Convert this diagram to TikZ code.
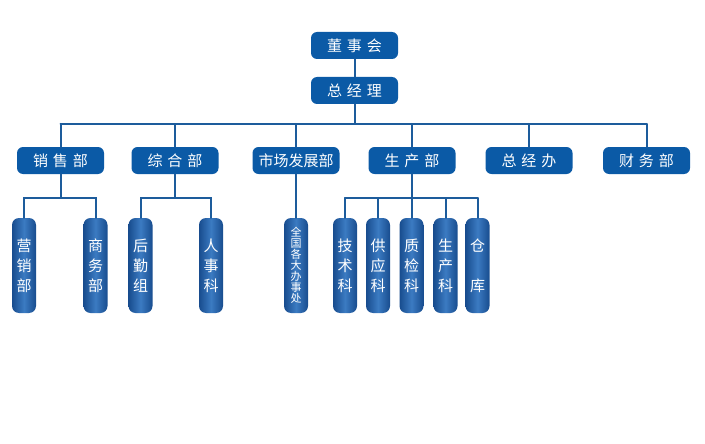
\documentclass[tikz,border=0pt]{standalone}
\usepackage{fontspec}
\newfontfamily\cjk{Noto Sans CJK SC}
\usepackage{xcolor}
\definecolor{boxblue}{HTML}{0B5AA6}
\definecolor{edgeblue}{HTML}{184C8E}
\definecolor{midblue}{HTML}{3B7BC2}
\definecolor{linkblue}{HTML}{1D5C9C}
\newcommand{\zgap}{\hspace{5pt}}

\begin{document}
\begin{tikzpicture}[x=1pt,y=-1pt,line cap=round,
    headbox/.style={fill=boxblue,rounded corners=6pt,minimum width=87pt,minimum height=27pt,
        inner sep=0pt,text=white,font=\cjk\fontsize{15}{17}\selectfont},
    subbox/.style={left color=edgeblue,right color=edgeblue,middle color=midblue,
        rounded corners=7pt,minimum width=24pt,minimum height=95pt,inner sep=0pt,
        text=white,align=center,font=\cjk\fontsize{15}{20}\selectfont},
    link/.style={draw=linkblue,line width=2pt}]
            \useasboundingbox (0,0) rectangle (705,444);

            % the two top boxes
            \node[headbox] (board) at (354.5,45.5) {董\zgap 事\zgap 会};
            \node[headbox] (gm) at (354.5,90.5) {总\zgap 经\zgap 理};

            % the departments
            \node[headbox] (sales) at (60.5,160.5) {销\zgap 售\zgap 部};
            \node[headbox] (admin) at (175,160.5) {综\zgap 合\zgap 部};
            \node[headbox] (market) at (296,160.5) {市场发展部};
            \node[headbox] (prod) at (412,160.5) {生\zgap 产\zgap 部};
            \node[headbox] (office) at (529,160.5) {总\zgap 经\zgap 办};
            \node[headbox] (finance) at (646.5,160.5) {财\zgap 务\zgap 部};

            % the sections
            \node[subbox] (promo) at (24,265.5) {营\\销\\部};
            \node[subbox] (trade) at (95.5,265.5) {商\\务\\部};
            \node[subbox] (logis) at (140.5,265.5) {后\\勤\\组};
            \node[subbox] (staff) at (211,265.5) {人\\事\\科};
            \node[subbox,font=\cjk\fontsize{11}{11}\selectfont] (branch) at (296,265.5) {全\\国\\各\\大\\办\\事\\处};
            \node[subbox] (tech) at (345,265.5) {技\\术\\科};
            \node[subbox] (supply) at (378,265.5) {供\\应\\科};
            \node[subbox] (qc) at (411.5,265.5) {质\\检\\科};
            \node[subbox] (make) at (445.5,265.5) {生\\产\\科};
            \node[subbox] (store) at (477.5,265.5) {仓\\[20pt]库};

            % bus lines
            \coordinate (bus) at (0,124);
            \coordinate (salesbus) at (0,197.5);
            \coordinate (prodbus) at (0,198);

            % connectors
            \draw[link] (board) -- (gm);
            \draw[link] (gm.south) -- (gm.south |- bus);
            \draw[link] (sales.north |- bus) -- (finance.north |- bus);
            \foreach \d in {sales,admin,market,prod,office,finance}
                \draw[link] (\d.north) -- (\d.north |- bus);

            \draw[link] (sales.south) -- (sales.south |- salesbus);
            \draw[link] (promo.north) |- (trade.north |- salesbus) -- (trade.north);
            \draw[link] (admin.south) -- (admin.south |- salesbus);
            \draw[link] (logis.north) |- (staff.north |- salesbus) -- (staff.north);
            \draw[link] (market) -- (branch);

            \draw[link] (prod.south) -- (prod.south |- prodbus);
            \draw[link] (tech.north |- prodbus) -- (store.north |- prodbus);
            \foreach \s in {tech,supply,qc,make,store}
                \draw[link] (\s.north) -- (\s.north |- prodbus);
        \end{tikzpicture}
\end{document}
